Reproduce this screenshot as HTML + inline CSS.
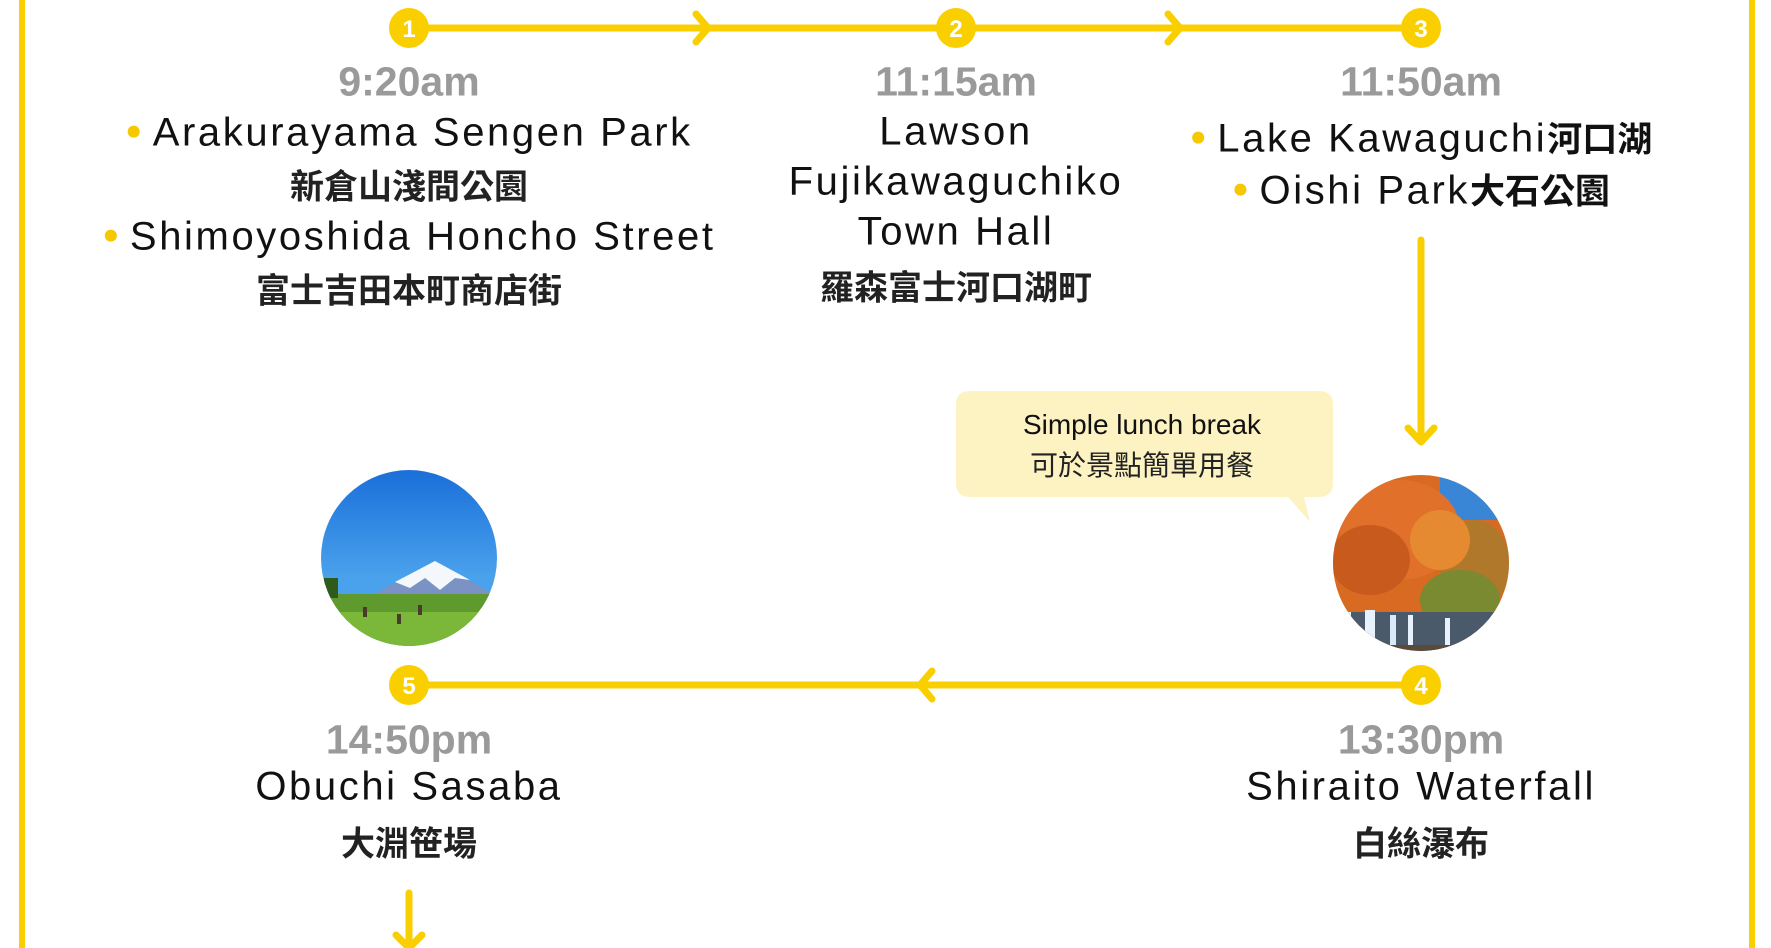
<!DOCTYPE html>
<html><head><meta charset="utf-8"><style>
body{margin:0;width:1771px;height:948px;overflow:hidden;background:#fff;position:relative;font-family:"Liberation Sans","Noto Sans CJK TC",sans-serif}
.t{position:absolute;transform:translate(-50%,-50%);white-space:nowrap;text-align:center}
.time{font-weight:bold;color:#9a9a9a;font-size:41px}
.en{color:#111;font-size:40px;letter-spacing:2.6px}
.zh{color:#222;font-size:34px;font-weight:bold}
.b{color:#f5c800;font-size:28px;vertical-align:6px;margin-right:8px}
</style></head><body>
<svg width="1771" height="948" style="position:absolute;left:0;top:0">
<defs>
<linearGradient id="sky" x1="0" y1="0" x2="0" y2="1"><stop offset="0" stop-color="#1a6fd9"/><stop offset="0.6" stop-color="#4aa2ec"/></linearGradient>
<clipPath id="c5"><circle cx="409" cy="558" r="88"/></clipPath>
<clipPath id="c4"><circle cx="1421" cy="563" r="88"/></clipPath>
</defs>
<rect x="19" y="0" width="6" height="948" fill="#f9cf00"/>
<rect x="1749" y="0" width="6" height="948" fill="#f9cf00"/>
<g stroke="#f9cf00" stroke-width="7" fill="none" stroke-linecap="round" stroke-linejoin="round">
<line x1="409" y1="28" x2="1421" y2="28"/>
<polyline points="696,14 708,28 696,42"/>
<polyline points="1168,14 1180,28 1168,42"/>
<line x1="1421" y1="240" x2="1421" y2="440"/>
<polyline points="1408,428 1421,442 1434,428"/>
<line x1="409" y1="685" x2="1421" y2="685"/>
<polyline points="932,671 920,685 932,699"/>
<line x1="409" y1="893" x2="409" y2="950"/>
<polyline points="396,935 409,948 422,935"/>
</g>
<g fill="#f9cf00"><circle cx="409" cy="28" r="20"/><circle cx="956" cy="28" r="20"/><circle cx="1421" cy="28" r="20"/><circle cx="1421" cy="685" r="20"/><circle cx="409" cy="685" r="20"/></g>
<g fill="#fff" font-family="Liberation Sans" font-weight="bold" font-size="24" text-anchor="middle">
<text x="409" y="37">1</text><text x="956" y="37">2</text><text x="1421" y="37">3</text><text x="1421" y="694">4</text><text x="409" y="694">5</text></g>
<path d="M970 391 H1319 Q1333 391 1333 405 V483 Q1333 497 1319 497 H1304 L1310 522 L1288 497 H970 Q956 497 956 483 V405 Q956 391 970 391Z" fill="#fdf2c2"/>
<g clip-path="url(#c5)">
<rect x="320" y="470" width="180" height="180" fill="url(#sky)"/>
<polygon points="367,598 435,561 500,598" fill="#7a93c4"/>
<polygon points="395,582 435,561 470,580 455,578 440,590 425,578 410,588" fill="#f4f7fc"/>
<rect x="320" y="594" width="180" height="60" fill="#5e9a2e"/>
<rect x="320" y="612" width="180" height="40" fill="#7bb83a"/>
<rect x="324" y="578" width="14" height="20" fill="#2e5a1c"/>
<rect x="363" y="607" width="4" height="10" fill="#4a3a2a"/><rect x="397" y="614" width="4" height="10" fill="#4a3a2a"/><rect x="418" y="605" width="4" height="10" fill="#4a3a2a"/>
</g>
<g clip-path="url(#c4)">
<rect x="1330" y="470" width="180" height="180" fill="#d86a22"/>
<rect x="1440" y="470" width="80" height="50" fill="#3a86d6"/>
<ellipse cx="1400" cy="530" rx="60" ry="50" fill="#e0702a"/>
<ellipse cx="1370" cy="560" rx="40" ry="35" fill="#c95a1e"/>
<ellipse cx="1475" cy="565" rx="35" ry="45" fill="#b0782a"/>
<ellipse cx="1460" cy="600" rx="40" ry="30" fill="#7a8a30"/>
<ellipse cx="1440" cy="540" rx="30" ry="30" fill="#e58a30"/>
<rect x="1330" y="612" width="180" height="45" fill="#4a5a6a"/>
<rect x="1345" y="612" width="6" height="40" fill="#e8f2ff"/><rect x="1365" y="610" width="10" height="45" fill="#e8f2ff"/><rect x="1390" y="615" width="6" height="35" fill="#dbe8f8"/><rect x="1408" y="615" width="5" height="35" fill="#e8f2ff"/><rect x="1445" y="618" width="5" height="30" fill="#e8f2ff"/>
<rect x="1330" y="645" width="180" height="20" fill="#5a4a3a"/>
</g>
</svg>

<div class="t time" style="left:409px;top:82px">9:20am</div>
<div class="t en" style="left:409px;top:133px"><span class="b">●</span>Arakurayama Sengen Park</div>
<div class="t zh" style="left:409px;top:184px">新倉山淺間公園</div>
<div class="t en" style="left:409px;top:237px"><span class="b">●</span>Shimoyoshida Honcho Street</div>
<div class="t zh" style="left:409px;top:288px">富士吉田本町商店街</div>

<div class="t time" style="left:956px;top:82px">11:15am</div>
<div class="t en" style="left:956px;top:132px">Lawson</div>
<div class="t en" style="left:956px;top:182px">Fujikawaguchiko</div>
<div class="t en" style="left:956px;top:232px">Town Hall</div>
<div class="t zh" style="left:956px;top:285px">羅森富士河口湖町</div>

<div class="t time" style="left:1421px;top:82px">11:50am</div>
<div class="t en" style="left:1421px;top:137px"><span class="b">●</span>Lake Kawaguchi<b style="font-size:35px;letter-spacing:0">河口湖</b></div>
<div class="t en" style="left:1421px;top:189px"><span class="b">●</span>Oishi Park<b style="font-size:35px;letter-spacing:0">大石公園</b></div>

<div class="t" style="left:1142px;top:425px;font-size:28px;color:#111">Simple lunch break</div>
<div class="t" style="left:1142px;top:464px;font-size:28px;color:#222">可於景點簡單用餐</div>

<div class="t time" style="left:409px;top:740px">14:50pm</div>
<div class="t en" style="left:409px;top:787px">Obuchi Sasaba</div>
<div class="t zh" style="left:409px;top:841px">大淵笹場</div>

<div class="t time" style="left:1421px;top:740px">13:30pm</div>
<div class="t en" style="left:1421px;top:787px">Shiraito Waterfall</div>
<div class="t zh" style="left:1421px;top:841px">白絲瀑布</div>
</body></html>
